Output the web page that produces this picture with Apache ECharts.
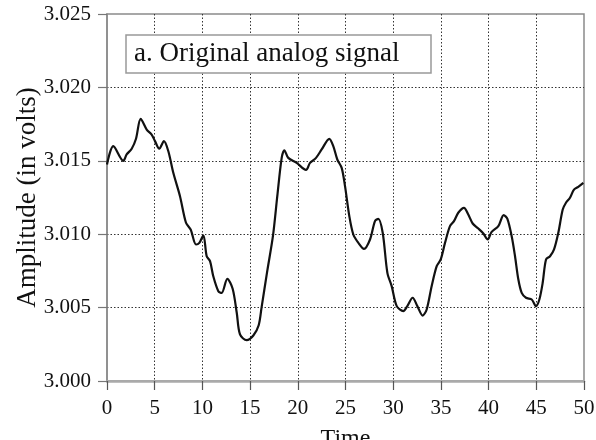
<!DOCTYPE html>
<html>
<head>
<meta charset="utf-8">
<script src="https://cdn.jsdelivr.net/npm/echarts@6/dist/echarts.min.js"></script>
<style>html,body{margin:0;padding:0;background:#fff}#c{width:596px;height:440px}</style>
</head>
<body>
<div id="c"></div>
<script>
const titleText = 'a. Original analog signal';
const xName = 'Time';
const yName = 'Amplitude (in volts)';
const xTicks = [0, 5, 10, 15, 20, 25, 30, 35, 40, 45, 50];
const yTicks = [3.000, 3.005, 3.010, 3.015, 3.020, 3.025];
const times = [0, 0.66, 1.71, 2.06, 2.59, 3.04, 3.53, 4.16, 4.68, 5.03, 5.48, 5.97, 6.43, 6.95, 7.65, 8.28, 8.77, 9.33, 9.68, 10.1, 10.45, 10.8, 11.14, 11.67, 12.02, 12.61, 13.17, 13.6, 13.94, 14.64, 15.34, 15.9, 16.2, 16.8, 17.4, 17.85, 18.31, 18.59, 19.0, 19.88, 20.86, 21.28, 21.91, 22.5, 23.3, 23.72, 24.14, 24.6, 24.95, 25.4, 25.82, 26.35, 26.94, 27.57, 28.09, 28.44, 28.9, 29.39, 29.84, 30.37, 31.06, 31.48, 32.04, 32.53, 33.09, 33.51, 34.03, 34.56, 34.98, 35.43, 35.95, 36.37, 36.82, 37.42, 37.87, 38.33, 38.92, 39.45, 39.9, 40.32, 41.02, 41.58, 41.96, 42.42, 42.77, 43.12, 43.47, 43.92, 44.52, 44.97, 45.32, 45.67, 46.02, 46.44, 46.86, 47.31, 47.77, 48.11, 48.53, 48.95, 49.4, 49.93];
const volts = [3.01475, 3.0160, 3.0150, 3.01543, 3.01582, 3.0165, 3.01786, 3.01713, 3.01679, 3.01634, 3.01582, 3.01634, 3.01565, 3.01418, 3.01259, 3.01078, 3.01032, 3.0093, 3.00941, 3.00993, 3.0085, 3.00816, 3.00714, 3.00612, 3.0060, 3.00696, 3.00628, 3.00465, 3.00317, 3.00278, 3.0031, 3.0038, 3.0050, 3.0075, 3.0099, 3.01259, 3.0152, 3.01572, 3.0152, 3.01486, 3.01438, 3.01486, 3.0152, 3.01577, 3.0165, 3.0160, 3.01509, 3.01452, 3.01327, 3.01123, 3.00998, 3.00941, 3.0090, 3.00964, 3.01089, 3.01105, 3.0101, 3.00737, 3.00646, 3.0051, 3.00476, 3.0051, 3.00567, 3.0051, 3.00446, 3.00487, 3.00646, 3.00782, 3.00828, 3.00941, 3.01055, 3.01089, 3.01146, 3.0118, 3.01134, 3.01073, 3.01039, 3.01005, 3.00964, 3.01016, 3.01055, 3.0113, 3.01106, 3.00986, 3.0085, 3.00691, 3.006, 3.00567, 3.00555, 3.0051, 3.00555, 3.00669, 3.00828, 3.0085, 3.00896, 3.0101, 3.01168, 3.01214, 3.01248, 3.01304, 3.01323, 3.0135];

const FONT = '"Liberation Serif", "Times New Roman", serif';
const chart = echarts.init(document.getElementById('c'), null, {renderer: 'canvas'});
const xStep = xTicks[1] - xTicks[0];
const yStep = Math.round((yTicks[1] - yTicks[0]) * 1000) / 1000;
chart.setOption({
  animation: false,
  backgroundColor: '#fff',
  title: {
    text: titleText,
    left: 126, top: 35,
    padding: [5, 32, 5, 8],
    borderColor: '#999', borderWidth: 1.5,
    backgroundColor: '#fff',
    textStyle: {fontFamily: FONT, fontSize: 27, fontWeight: 'normal', color: '#111', lineHeight: 28}
  },
  grid: {left: 107, right: 12, top: 14, bottom: 59, show: true, borderColor: '#8a8a8a', borderWidth: 1.5, containLabel: false, outerBoundsMode: 'none'},
  xAxis: {
    type: 'value', min: xTicks[0], max: xTicks[xTicks.length - 1], interval: xStep,
    name: xName, nameLocation: 'middle', nameGap: 46, nameMoveOverlap: false,
    nameTextStyle: {fontFamily: FONT, fontSize: 24, color: '#111'},
    axisLine: {show: true, lineStyle: {color: '#aaa', width: 2.5}},
    axisTick: {show: true, inside: false, length: 9, lineStyle: {color: '#555', width: 1.2}},
    axisLabel: {fontFamily: FONT, fontSize: 21, color: '#111', margin: 17},
    splitLine: {show: true, showMinLine: false, showMaxLine: false, lineStyle: {color: '#333', type: [1.5, 2], width: 1}}
  },
  yAxis: {
    type: 'value', min: yTicks[0], max: yTicks[yTicks.length - 1], interval: yStep,
    name: yName, nameLocation: 'middle', nameGap: 66, nameMoveOverlap: false,
    nameTextStyle: {fontFamily: FONT, fontSize: 27, color: '#111'},
    axisLine: {show: true, lineStyle: {color: '#8a8a8a', width: 1.5}},
    axisTick: {show: true, inside: false, length: 9, lineStyle: {color: '#777', width: 1.2}},
    axisLabel: {fontFamily: FONT, fontSize: 21, color: '#111', margin: 16, formatter: v => v.toFixed(3)},
    splitLine: {show: true, showMinLine: false, showMaxLine: false, lineStyle: {color: '#333', type: [1.5, 2], width: 1}}
  },
  series: [{
    type: 'line',
    data: times.map((t, i) => [t, volts[i]]),
    showSymbol: false,
    smooth: 0.3,
    lineStyle: {color: '#111', width: 2.2},
    z: 3
  }]
});
</script>
</body>
</html>
